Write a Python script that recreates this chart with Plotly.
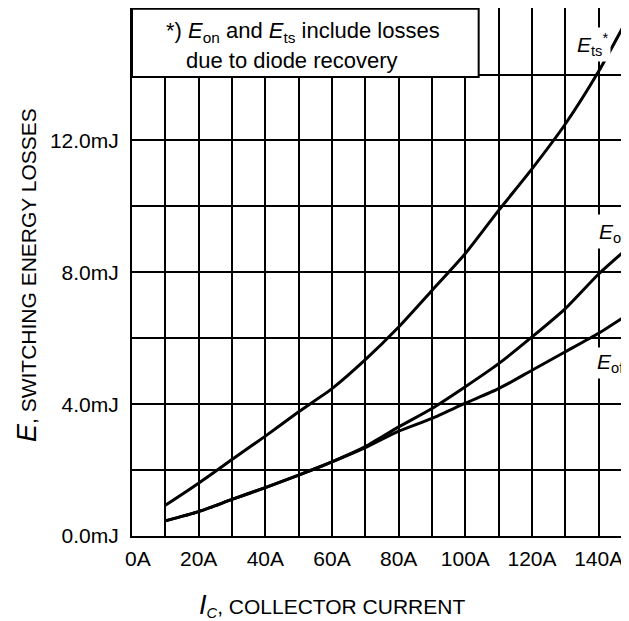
import plotly.graph_objects as go

# Data
current_a = [10, 20, 30, 40, 50, 60, 70, 80, 90, 100, 110, 120, 130, 140, 150]
e_ts = [0.93, 1.60, 2.32, 3.03, 3.77, 4.47, 5.35, 6.34, 7.45, 8.57, 9.88, 11.14, 12.5, 14.1, 15.95]
e_on = [0.46, 0.74, 1.11, 1.47, 1.85, 2.25, 2.71, 3.31, 3.87, 4.53, 5.23, 6.04, 6.9, 7.95, 8.85]
e_off = [0.46, 0.74, 1.11, 1.47, 1.85, 2.25, 2.68, 3.18, 3.57, 4.03, 4.47, 5.03, 5.59, 6.15, 6.8]

x_ticks = [0, 20, 40, 60, 80, 100, 120, 140]
x_labels = ["\u00a0\u00a00A", "20A", "40A", "60A", "80A", "100A", "120A", "140A"]
y_ticks = [0, 4, 8, 12]
y_labels = ["0.0mJ", "4.0mJ", "8.0mJ", "12.0mJ"]

FONT = "Liberation Sans, Arial, sans-serif"
GRID = dict(showgrid=True, gridcolor="black", gridwidth=1.6)

fig = go.Figure()
for vals in (e_off, e_on, e_ts):
    fig.add_trace(go.Scatter(
        x=current_a, y=vals, mode="lines",
        line=dict(color="black", width=3, shape="spline", smoothing=0.6),
        hoverinfo="skip", showlegend=False))

fig.update_layout(
    width=621, height=613,
    margin=dict(l=124, r=0, t=0, b=85),
    paper_bgcolor="white", plot_bgcolor="white",
    font=dict(family=FONT, color="black", size=21),
    xaxis=dict(range=[0, 149.1], tickvals=x_ticks, ticktext=x_labels,
               **GRID, minor=dict(dtick=10, tick0=0, **GRID),
               showline=True, linecolor="black", linewidth=2,
               zeroline=False, ticks="", ticklabelstandoff=3,
               tickfont=dict(family=FONT, size=21, color="black")),
    yaxis=dict(range=[0, 16.02], tickvals=y_ticks, ticktext=y_labels,
               **GRID, minor=dict(dtick=2, tick0=0, **GRID),
               showline=True, linecolor="black", linewidth=2,
               zeroline=False, ticks="", ticklabelstandoff=7,
               tickfont=dict(family=FONT, size=21, color="black")),
)

# note box
fig.add_shape(type="rect", xref="x", yref="y", x0=0, x1=104, y0=13.93, y1=16.0,
              fillcolor="white", line=dict(color="black", width=2), layer="above")


def px(page_x):
    return (page_x - 132) / 497


def py(page_y):
    return (536 - page_y) / 528


ann = []
ann.append(dict(xref="paper", yref="paper", x=px(303), y=py(32),
                text="*) <i>E</i><sub>on</sub> and <i>E</i><sub>ts</sub> include losses",
                showarrow=False, xanchor="center", yanchor="middle",
                font=dict(family=FONT, size=22, color="black")))
ann.append(dict(xref="paper", yref="paper", x=px(292), y=py(60),
                text="due to diode recovery",
                showarrow=False, xanchor="center", yanchor="middle",
                font=dict(family=FONT, size=22, color="black")))
# curve labels
ann.append(dict(xref="x", yref="y", x=132.6, y=14.9, xanchor="left", yanchor="middle",
                text="<i>E</i><sub>ts</sub><sup>*</sup>", showarrow=False,
                bgcolor="white", borderpad=2, font=dict(family=FONT, size=21, color="black")))
ann.append(dict(xref="x", yref="y", x=139.2, y=9.25, xanchor="left", yanchor="middle",
                text="<i>E</i><sub>on</sub><sup>*</sup>", showarrow=False,
                bgcolor="white", borderpad=2, font=dict(family=FONT, size=21, color="black")))
ann.append(dict(xref="x", yref="y", x=138.6, y=5.25, xanchor="left", yanchor="middle",
                text="<i>E</i><sub>off</sub>", showarrow=False,
                bgcolor="white", borderpad=2, font=dict(family=FONT, size=21, color="black")))
# axis titles
ann.append(dict(xref="paper", yref="paper", x=px(331.5), y=py(605.5),
                text="<i><span style='font-size:27px'>I</span><sub>C</sub></i>, COLLECTOR CURRENT",
                showarrow=False, xanchor="center", yanchor="middle",
                font=dict(family=FONT, size=21, color="black")))
ann.append(dict(xref="paper", yref="paper", x=px(27), y=py(275),
                text="<i><span style='font-size:27px'>E</span></i>, SWITCHING ENERGY LOSSES",
                showarrow=False, xanchor="center", yanchor="middle", textangle=-90,
                font=dict(family=FONT, size=21, color="black")))
fig.update_layout(annotations=ann)

fig.write_html("out.html")
